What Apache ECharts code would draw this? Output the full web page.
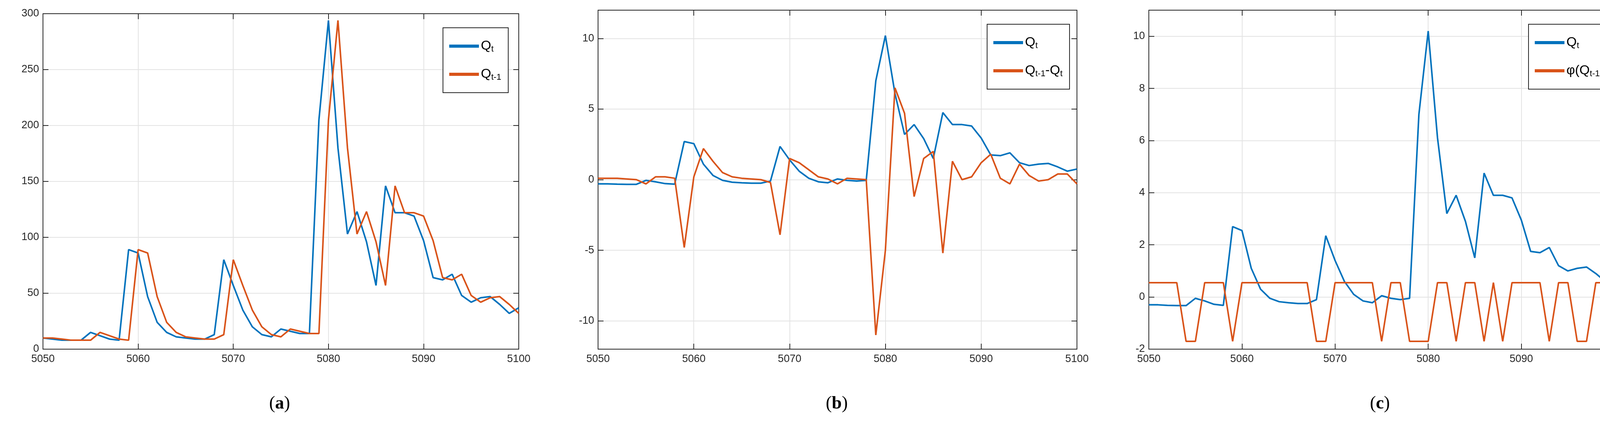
<!DOCTYPE html>
<html>
<head>
<meta charset="utf-8">
<script src="https://cdn.jsdelivr.net/npm/echarts@6/dist/echarts.min.js"></script>
<style>html,body{margin:0;background:#fff}#main{width:4245px;height:1133px}</style>
</head>
<body>
<div id="main"></div>
<script>
// x values 5050..5100
const xs = [];
for (let i = 5050; i <= 5100; i++) xs.push(i);

// panel (a): raw discharge
const qRaw = [10, 9, 8, 8, 8, 15, 12, 9, 8, 89, 86, 47, 24, 15, 11, 10, 9, 9, 13, 80,
  57, 35, 20, 13, 11, 18, 16, 14, 14, 205, 294, 180, 103, 123, 96, 57, 146, 122, 122, 119,
  97, 64, 62, 67, 48, 42, 46, 47, 40, 32, 37];
const qPrev = [10, 10, 9, 8, 8, 8, 15, 12, 9, 8, 89, 86, 47, 24, 15, 11, 10, 9, 9, 13,
  80, 57, 35, 20, 13, 11, 18, 16, 14, 14, 205, 294, 180, 103, 123, 96, 57, 146, 122, 122,
  119, 97, 64, 62, 67, 48, 42, 46, 47, 40, 32];

// panels (b),(c): standardised discharge
const qStd = [-0.3, -0.3, -0.32, -0.33, -0.33, -0.05, -0.15, -0.28, -0.32, 2.7, 2.55, 1.1, 0.3, -0.05, -0.18, -0.22, -0.25, -0.25, -0.1, 2.35,
  1.4, 0.6, 0.1, -0.15, -0.22, 0.05, -0.05, -0.1, -0.05, 7.0, 10.2, 6.1, 3.2, 3.9, 2.9, 1.5, 4.75, 3.9, 3.9, 3.8,
  2.95, 1.75, 1.7, 1.9, 1.2, 1.0, 1.1, 1.15, 0.9, 0.6, 0.75];
const qDiff = [0.1, 0.1, 0.1, 0.05, 0, -0.3, 0.2, 0.2, 0.1, -4.8, 0.2, 2.2, 1.3, 0.5, 0.2, 0.1, 0.05, 0, -0.2, -3.9,
  1.5, 1.2, 0.7, 0.2, 0.05, -0.3, 0.1, 0.05, 0, -11, -5, 6.5, 4.7, -1.2, 1.5, 2, -5.2, 1.3, 0, 0.2,
  1.2, 1.8, 0.1, -0.3, 1.1, 0.3, -0.1, 0, 0.4, 0.4, -0.3];
const H = 0.55, L = -1.7;
const qPhi = [H, H, H, H, L, L, H, H, H, L, H, H, H, H, H, H, H, H, L, L,
  H, H, H, H, H, L, H, H, L, L, L, H, H, L, H, H, L, H, L, H,
  H, H, H, L, H, H, L, L, H, H, L];

const yTicksB = [-10, -5, 0, 5, 10];
const yTicksC = [-2, 0, 2, 4, 6, 8, 10];

const BLUE = '#0072BD', ORANGE = '#D95319';
const FONT = 'Liberation Sans';
const AX = '#262626';

const grids = [
  { left: 110, width: 1218, top: 35 },
  { left: 1531, width: 1226, top: 26 },
  { left: 2941, width: 1192, top: 26 }
].map(g => ({ left: g.left, width: g.width, top: g.top, bottom: 1133 - 893, outerBoundsMode: 'none', containLabel: false }));

const yCfg = [
  { min: 0, max: 300, interval: 50 },
  { min: -12, max: 12, custom: yTicksB },
  { min: -2, max: 11, custom: yTicksC }
];

const line = { show: true, onZero: false, lineStyle: { color: AX, width: 2 } };
const tick = { inside: true, length: 14, lineStyle: { color: AX, width: 2 } };
const lab = { fontFamily: FONT, fontSize: 27, color: AX, formatter: v => String(v) };
const split = { lineStyle: { color: '#e3e3e3', width: 2 } };

const xAxis = [], yAxis = [];
grids.forEach((g, i) => {
  const xb = { type: 'value', gridIndex: i, min: 5050, max: 5100, interval: 10, axisLine: line };
  xAxis.push(Object.assign({}, xb, { position: 'bottom', axisTick: tick, axisLabel: Object.assign({}, lab, { margin: 12 }), splitLine: split }));
  xAxis.push(Object.assign({}, xb, { position: 'top', axisTick: tick, axisLabel: { show: false }, splitLine: { show: false } }));
  const c = yCfg[i];
  const yb = { type: 'value', gridIndex: i, min: c.min, max: c.max, axisLine: line };
  if (c.interval) yb.interval = c.interval;
  const t = Object.assign({}, tick), l = Object.assign({}, lab, { margin: 10 });
  if (c.custom) { t.customValues = c.custom; l.customValues = c.custom; }
  yAxis.push(Object.assign({}, yb, { position: 'left', axisTick: t, axisLabel: l, splitLine: split }));
  yAxis.push(Object.assign({}, yb, { position: 'right', axisTick: t, axisLabel: { show: false }, splitLine: { show: false } }));
});

const mk = (name, data, color, i) => ({
  name, type: 'line', xAxisIndex: i * 2, yAxisIndex: i * 2, showSymbol: false,
  data: xs.map((x, k) => [x, data[k]]),
  lineStyle: { color, width: 4 }, itemStyle: { color }
});

const series = [
  mk('a1', qRaw, BLUE, 0), mk('a2', qPrev, ORANGE, 0),
  mk('b1', qStd, BLUE, 1), mk('b2', qDiff, ORANGE, 1),
  mk('c1', qStd, BLUE, 2), mk('c2', qPhi, ORANGE, 2)
];

const rich = {
  m: { fontFamily: FONT, fontSize: 34, color: '#000' },
  s: { fontFamily: FONT, fontSize: 22, color: '#000', verticalAlign: 'bottom', padding: [16, 0, 0, 0] }
};
const labels = {
  a1: '{m|Q}{s|t}', a2: '{m|Q}{s|t-1}',
  b1: '{m|Q}{s|t}', b2: '{m|Q}{s|t-1}{m|-Q}{s|t}',
  c1: '{m|Q}{s|t}', c2: '{m|φ(Q}{s|t-1}{m|-Q}{s|t}{m|)}'
};
const legendPos = [
  { left: 1134, top: 71, data: ['a1', 'a2'] },
  { left: 2527, top: 62, data: ['b1', 'b2'] },
  { left: 3913, top: 62, data: ['c1', 'c2'] }
];
const legend = legendPos.map(p => ({
  left: p.left, top: p.top, orient: 'vertical', data: p.data,
  itemWidth: 76, itemHeight: 8, itemGap: 36, padding: [30, 18, 28, 16],
  icon: 'rect', borderColor: AX, borderWidth: 2, backgroundColor: '#fff',
  formatter: n => labels[n], textStyle: { rich }
}));

const capRich = {
  n: { fontFamily: 'Liberation Serif', fontSize: 46, color: '#000' },
  b: { fontFamily: 'Liberation Serif', fontSize: 46, fontWeight: 'bold', color: '#000' }
};
const graphic = ['a', 'b', 'c'].map((l, i) => ({
  type: 'text', left: grids[i].left + grids[i].width / 2 - 30, top: 1010,
  style: { text: '{n|(}{b|' + l + '}{n|)}', rich: capRich }
}));

const chart = echarts.init(document.getElementById('main'));
chart.setOption({
  animation: false, backgroundColor: '#fff',
  grid: grids, xAxis, yAxis, series, legend, graphic
});
</script>
</body>
</html>
